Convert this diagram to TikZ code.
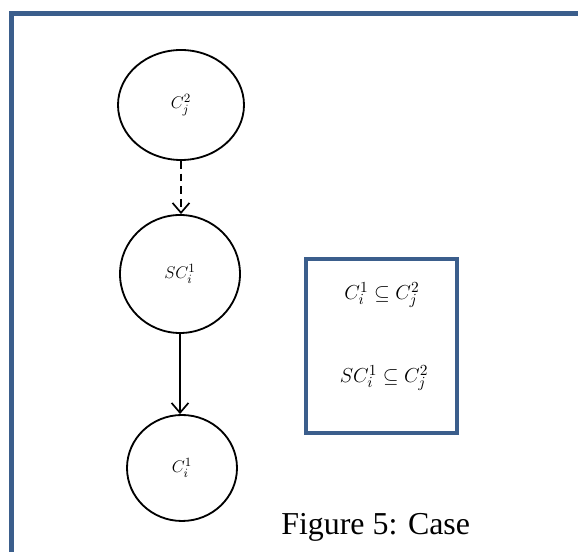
\documentclass[tikz,border=0pt]{standalone}
\usepackage{fontspec}
\newfontfamily\capfont{Liberation Serif}
\usetikzlibrary{arrows.meta, shapes.geometric}
\definecolor{frameblue}{HTML}{3B5E8C}

\begin{document}
\begin{tikzpicture}
        %限定輸出區塊
        \useasboundingbox (0,0) rectangle (14.45,13.8);
        \clip (0,0) rectangle (14.45,13.8);

        \tikzset{
            setnode/.style={ellipse, draw, line width=1.3pt, inner sep=0pt, font=\fontsize{12.5}{15}\selectfont},
            link/.style={-{Straight Barb[length=7pt,width=12pt]}, line width=1.2pt}
        }

        \draw[frameblue, line width=3.6pt] (0.2875,-0.5) -- (0.2875,13.4625) -- (15,13.4625);

        \node[setnode, minimum width=3.15cm, minimum height=2.75cm] (cj2) at (4.525,11.175) {$C_j^2$};
        \node[setnode, minimum width=3.0cm, minimum height=2.95cm] (sci1) at (4.5,6.95) {$SC_i^1$};
        \node[setnode, minimum width=2.75cm, minimum height=2.65cm] (ci1) at (4.55,2.1) {$C_i^1$};

        \draw[link, dash pattern=on 5.5pt off 3.5pt] (cj2.south) -- (cj2.south |- sci1.north);
        \draw[link] (sci1.south) -- (sci1.south |- ci1.north);

        \draw[frameblue, line width=2.9pt] (7.65,2.975) rectangle (11.425,7.325);
        \node[font=\fontsize{15}{18}\selectfont] (sub1) at (9.55,6.425) {$C_i^1 \subseteq C_j^2$};
        \node[font=\fontsize{15}{18}\selectfont] (sub2) at (9.6,4.35) {$SC_i^1 \subseteq C_j^2$};

        \node[anchor=base west, inner sep=0pt, font=\capfont\fontsize{22.7}{27}\selectfont] (cap) at (7.025,0.425) {Figure 5: Case};

    \end{tikzpicture}
\end{document}
